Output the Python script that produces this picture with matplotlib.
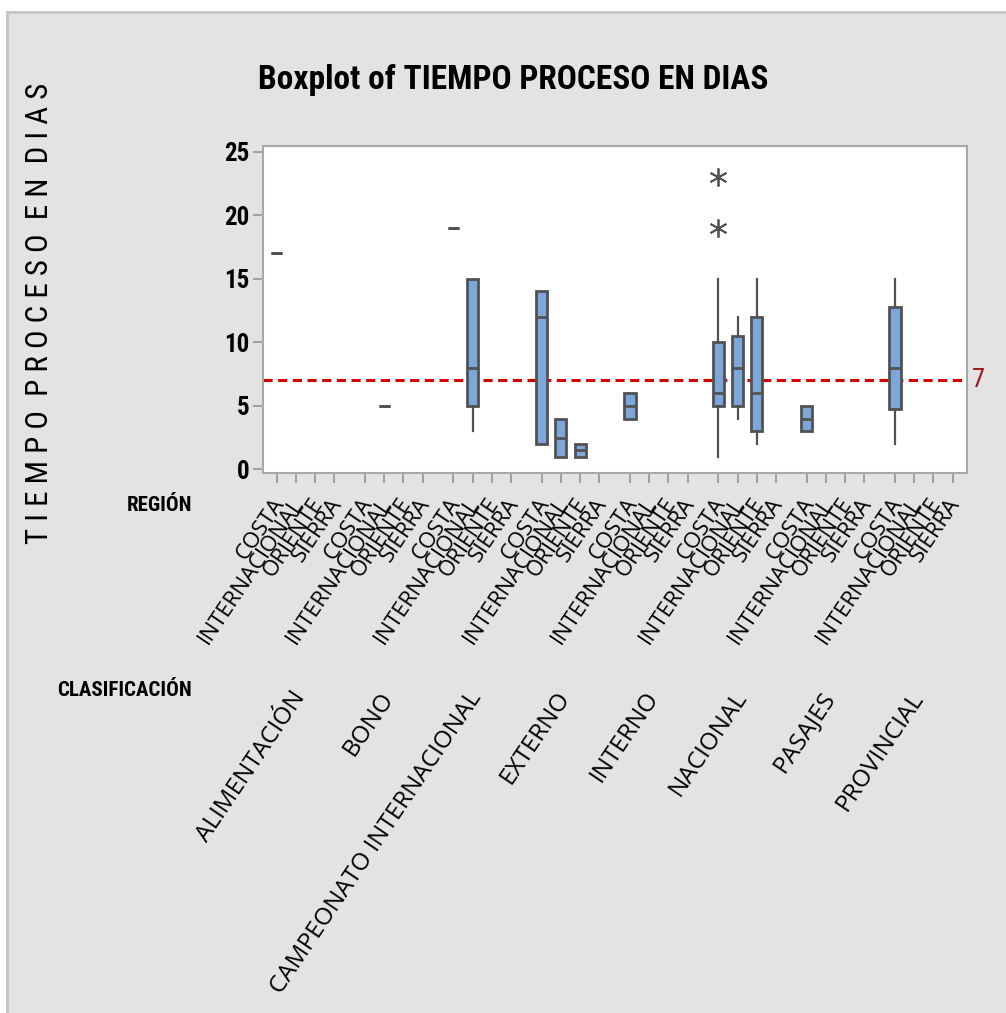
import matplotlib.pyplot as plt
from matplotlib.patches import Rectangle
from matplotlib.transforms import blended_transform_factory

clasificacion = ['ALIMENTACIÓN', 'BONO', 'CAMPEONATO INTERNACIONAL', 'EXTERNO',
                 'INTERNO', 'NACIONAL', 'PASAJES', 'PROVINCIAL']
regiones = ['COSTA', 'INTERNACIONAL', 'ORIENTE', 'SIERRA']

# one entry per drawn box: clasificación index, región index and the five numbers
box_clas = [0, 1, 2, 2, 3, 3, 3, 4, 5, 5, 5, 6, 7]
box_reg = [0, 1, 0, 1, 0, 1, 2, 0, 0, 1, 2, 0, 0]
whis_lo = [17, 5, 19, 3, 2, 1, 1, 4, 1, 4, 2, 3, 2]
q1 = [17, 5, 19, 5, 2, 1, 1, 4, 5, 5, 3, 3, 4.75]
mediana = [17, 5, 19, 8, 12, 2.5, 1.5, 5, 6, 8, 6, 4, 8]
q3 = [17, 5, 19, 15, 14, 4, 2, 6, 10, 10.5, 12, 5, 12.75]
whis_hi = [17, 5, 19, 15, 14, 4, 2, 6, 15, 12, 15, 5, 15]
atipicos = [[], [], [], [], [], [], [], [], [19, 23], [], [], [], []]
objetivo = 7

GAP = 4.6  # distance between clasificación groups, in slot units
NARROW = ['Roboto Condensed', 'Liberation Sans', 'DejaVu Sans']
LABEL = ['Open Sans', 'DejaVu Sans']


def slot(g, r):
    return g * GAP + r


fig = plt.figure(figsize=(10.06, 10.13), dpi=100, facecolor='white')
fig.patches.append(Rectangle((7 / 1006, -0.01), 1.0, (1013 - 12) / 1013 + 0.01,
                             transform=fig.transFigure, facecolor='#e3e3e3',
                             edgecolor='#c4c4c4', linewidth=2, zorder=-5))

ax = fig.add_axes([0.2617, 0.5328, 0.6993, 0.3234])
ax.set_zorder(2)
ax.set_facecolor('white')

stats = []
for i in range(len(box_clas)):
    stats.append(dict(whislo=whis_lo[i], q1=q1[i], med=mediana[i], q3=q3[i],
                      whishi=whis_hi[i], fliers=atipicos[i]))
positions = [slot(g, r) for g, r in zip(box_clas, box_reg)]

dark = '#525252'
ax.bxp(stats, positions=positions, widths=0.58, patch_artist=True, showcaps=False,
       boxprops=dict(facecolor='#7ca7da', edgecolor=dark, linewidth=2),
       medianprops=dict(color=dark, linewidth=2),
       whiskerprops=dict(color=dark, linewidth=1.6),
       flierprops=dict(marker=(6, 2, 0), markersize=13, markeredgecolor=dark,
                       markeredgewidth=1.3, linestyle='none'))

ax.axhline(objetivo, color='#d60000', linestyle=(0, (3, 1.8)), linewidth=2.2, zorder=1)
ax.annotate(str(objetivo), xy=(1, objetivo),
            xycoords=blended_transform_factory(ax.transAxes, ax.transData),
            xytext=(4, 0), textcoords='offset points', ha='left', va='center',
            color='#a01818', fontsize=19, family=NARROW)

all_slots = [slot(g, r) for g in range(len(clasificacion)) for r in range(len(regiones))]
ax.set_xticks(all_slots)
ax.set_xticklabels([])
ax.set_xlim(-0.7, slot(7, 3) + 0.74)
ax.set_ylim(-0.31, 25.48)
ax.set_yticks([0, 5, 10, 15, 20, 25])
ax.set_yticklabels(['0', '5', '10', '15', '20', '25'], family=NARROW, fontsize=18,
                   fontweight='bold')
ax.tick_params(axis='both', color='#9a9a9a', length=7, width=1.3)
ax.tick_params(axis='y', pad=3)
for sp in ax.spines.values():
    sp.set_color('#a8a8a8')
    sp.set_linewidth(1.5)

xfix = blended_transform_factory(ax.transData, ax.transAxes)
for g in range(len(clasificacion)):
    for r, name in enumerate(regiones):
        ax.annotate(name, xy=(slot(g, r), 0), xycoords=xfix,
                    xytext=(-4, -15), textcoords='offset points',
                    rotation=56, rotation_mode='anchor', ha='right', va='top',
                    fontsize=16, family=LABEL, annotation_clip=False)

for g, name in enumerate(clasificacion):
    ax.annotate(name, xy=(slot(g, 1.5), 0), xycoords=xfix,
                xytext=(-11, -154), textcoords='offset points',
                rotation=56, rotation_mode='anchor', ha='right', va='top',
                fontsize=17.5, family=LABEL, annotation_clip=False)

fig.text(192 / 1006, 1 - 505 / 1013, 'REGIÓN', ha='right', va='center',
         fontsize=15, family=NARROW, fontweight='bold')
fig.text(192 / 1006, 1 - 690 / 1013, 'CLASIFICACIÓN', ha='right', va='center',
         fontsize=15, family=NARROW, fontweight='bold')
fig.text(513 / 1006, 1 - 80 / 1013, 'Boxplot of TIEMPO PROCESO EN DIAS',
         ha='center', va='center', fontsize=24, family=NARROW, fontweight='bold')
fig.text(40 / 1006, 1 - 313 / 1013, 'T I E M P O  P R O C E S O  E N  D I A S',
         ha='center', va='center', rotation=90, fontsize=22.3, family=NARROW)

fig.savefig('out.png', dpi=100, facecolor=fig.get_facecolor())
